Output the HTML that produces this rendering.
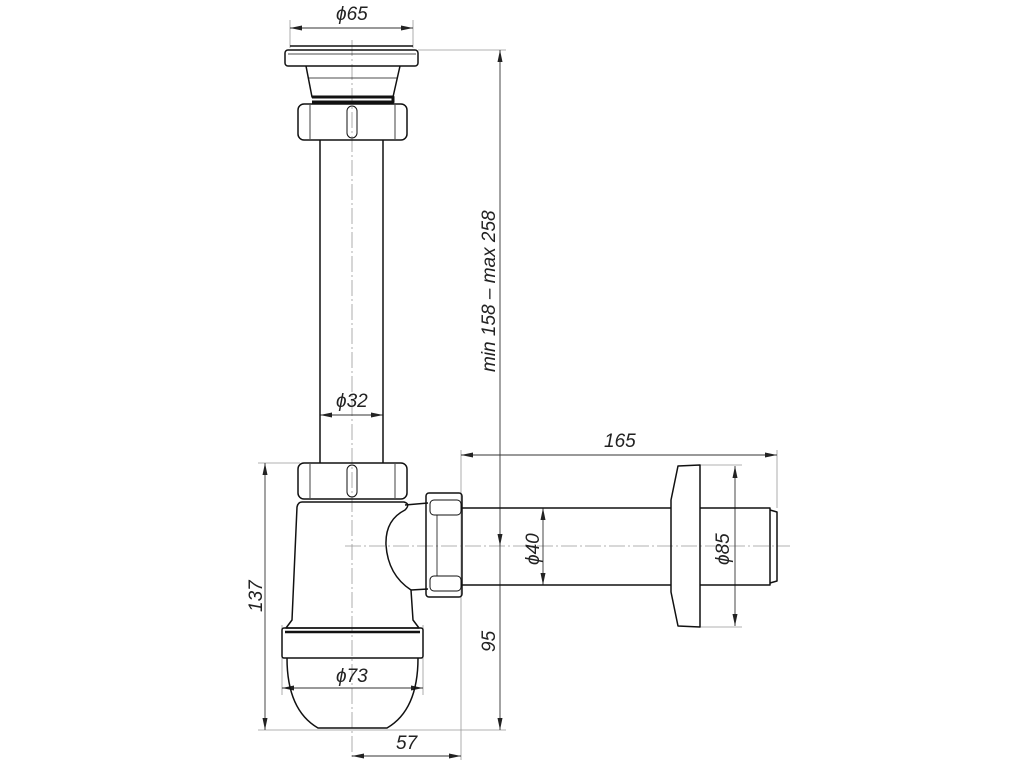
<!DOCTYPE html>
<html><head><meta charset="utf-8"><style>
html,body{margin:0;padding:0;background:#fff;width:1024px;height:768px;overflow:hidden}
svg{display:block}
text{font-family:"Liberation Sans Narrow","Liberation Sans",sans-serif;font-style:italic;fill:#222;font-size:19px}
</style></head><body>
<svg width="1024" height="768" viewBox="0 0 1024 768" xmlns="http://www.w3.org/2000/svg">
<defs>
<marker id="a" viewBox="0 0 12 5" refX="12" refY="2.5" markerWidth="12" markerHeight="5" orient="auto-start-reverse" markerUnits="userSpaceOnUse"><path d="M0,0 L12,2.5 L0,5 z" fill="#222"/></marker>
</defs>
<g stroke="#999" stroke-width="0.8" fill="none">
<line x1="352" y1="40" x2="352" y2="760" stroke-dasharray="16,3,2,3"/>
<line x1="345" y1="546" x2="790" y2="546" stroke-dasharray="16,3,2,3"/>
<line x1="290" y1="20" x2="290" y2="48"/><line x1="413" y1="20" x2="413" y2="48"/>
<line x1="418" y1="50" x2="506" y2="50"/>
<line x1="258" y1="463" x2="300" y2="463"/>
<line x1="258" y1="730" x2="506" y2="730"/>
<line x1="461" y1="450" x2="461" y2="760"/>
<line x1="777" y1="450" x2="777" y2="508"/>
<line x1="700" y1="465" x2="742" y2="465"/><line x1="700" y1="627" x2="742" y2="627"/>
<line x1="282" y1="625" x2="282" y2="695"/><line x1="423" y1="625" x2="423" y2="695"/>
</g>
<g stroke="#333" stroke-width="0.9" fill="none">
<line x1="290" y1="28" x2="413" y2="28" marker-start="url(#a)" marker-end="url(#a)"/>
<line x1="500" y1="50" x2="500" y2="730" marker-start="url(#a)" marker-end="url(#a)"/>
<line x1="500" y1="536" x2="500" y2="546" marker-end="url(#a)"/>
<line x1="265" y1="463" x2="265" y2="730" marker-start="url(#a)" marker-end="url(#a)"/>
<line x1="320" y1="415" x2="383" y2="415" marker-start="url(#a)" marker-end="url(#a)"/>
<line x1="461" y1="455" x2="777" y2="455" marker-start="url(#a)" marker-end="url(#a)"/>
<line x1="352" y1="756" x2="461" y2="756" marker-start="url(#a)" marker-end="url(#a)"/>
<line x1="543" y1="508" x2="543" y2="585" marker-start="url(#a)" marker-end="url(#a)"/>
<line x1="735" y1="466" x2="735" y2="626" marker-start="url(#a)" marker-end="url(#a)"/>
<line x1="282" y1="688" x2="423" y2="688" marker-start="url(#a)" marker-end="url(#a)"/>
</g>
<g stroke="#111" stroke-width="1.5" fill="none" stroke-linejoin="round">
<rect x="285" y="50" width="133" height="16" rx="3"/>
<line x1="290" y1="46" x2="413" y2="46"/><line x1="288" y1="54" x2="416" y2="54" stroke-width="0.7"/>
<path d="M306,66 L312,97 L393,97 L400,66"/>
<line x1="308" y1="78" x2="397" y2="78" stroke-width="0.7"/>
<path d="M312,97 L393,97 L393,102 L312,102" stroke-width="3"/>
<rect x="298" y="104" width="109" height="36" rx="6"/>
<line x1="310" y1="105" x2="310" y2="139" stroke-width="0.8"/><line x1="395" y1="105" x2="395" y2="139" stroke-width="0.8"/>
<rect x="347" y="106" width="10" height="32" rx="5" stroke-width="1"/>
<line x1="320" y1="140" x2="320" y2="463"/><line x1="383" y1="140" x2="383" y2="463"/>
<rect x="298" y="463" width="109" height="36" rx="6"/>
<line x1="310" y1="464" x2="310" y2="498" stroke-width="0.8"/><line x1="395" y1="464" x2="395" y2="498" stroke-width="0.8"/>
<rect x="347" y="465" width="10" height="32" rx="5" stroke-width="1"/>
<path d="M302,502 L404,502 Q411,504 405,510 Q385,520 386,545 Q388,575 411,590 L413,620 L419,628 L286,628 L292,620 L297,507 Q298,502 302,502 Z"/>
<line x1="405" y1="505" x2="428" y2="503"/><line x1="411" y1="590" x2="428" y2="589"/>
<rect x="282" y="628" width="141" height="30" rx="2"/>
<line x1="285" y1="632" x2="420" y2="632" stroke-width="2.5"/>
<path d="M287,658 Q287,710 318,728 L387,728 Q418,710 418,658"/>
<rect x="426" y="493" width="36" height="104" rx="3"/>
<rect x="430" y="500" width="31" height="15" rx="4" stroke-width="1"/>
<rect x="430" y="576" width="31" height="15" rx="4" stroke-width="1"/>
<line x1="437" y1="515" x2="437" y2="576" stroke-width="0.8"/>
<line x1="462" y1="508" x2="671" y2="508"/><line x1="462" y1="585" x2="671" y2="585"/>
<path d="M678,466 L700,465 L700,627 L678,626 L671,592 L671,500 Z"/>
<path d="M700,508 L770,508 L770,585 L700,585"/>
<path d="M770,510 L777,512 L777,581 L770,583"/>
</g>
<text x="336" y="20">ϕ65</text>
<text x="336" y="407">ϕ32</text>
<text x="604" y="447">165</text>
<text x="336" y="682">ϕ73</text>
<text x="396" y="749">57</text>
<text transform="translate(495,372) rotate(-90)">min 158 – max 258</text>
<text transform="translate(495,652) rotate(-90)">95</text>
<text transform="translate(262,612) rotate(-90)">137</text>
<text transform="translate(539,565) rotate(-90)">ϕ40</text>
<text transform="translate(729,565) rotate(-90)">ϕ85</text>
</svg>
</body></html>
